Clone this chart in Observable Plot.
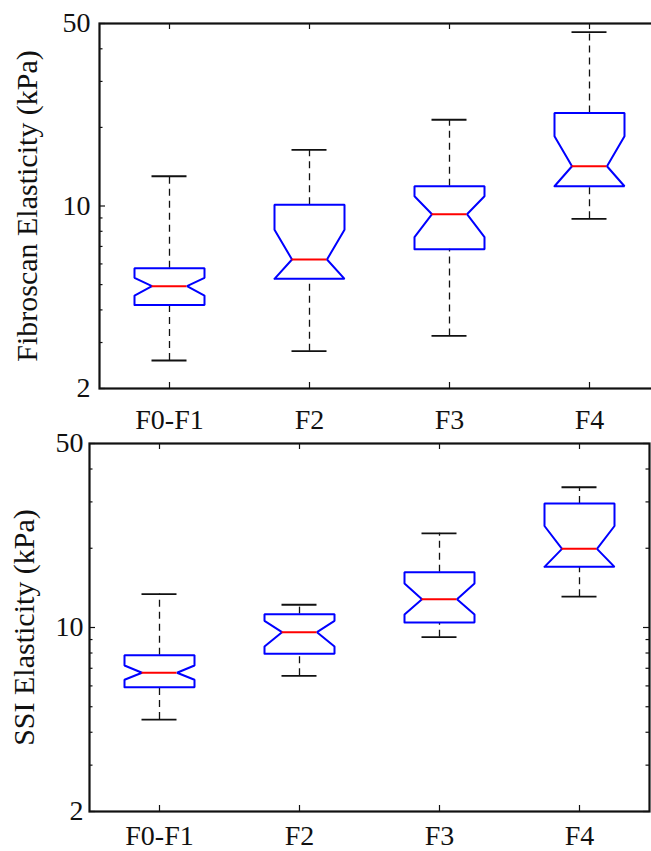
<!DOCTYPE html>
<html><head><meta charset="utf-8">
<script src="https://cdn.jsdelivr.net/npm/d3@7"></script>
<script src="https://cdn.jsdelivr.net/npm/@observablehq/plot@0.6"></script>
<style>
html,body{margin:0;padding:0;background:#fff;overflow:hidden;}
#chart div, #chart svg{display:block;}
#chart svg{max-width:none !important;}
#chart svg, #chart svg text{font-family:'Liberation Serif','Times New Roman',Times,serif !important;}
</style></head><body><div id="chart"></div>
<script>
const categories = ["F0-F1", "F2", "F3", "F4"];
const yTicks = [2, 10, 50];
const yMinorTicks = [3, 4, 5, 6, 7, 8, 9, 20, 30, 40];

// Fibroscan (top panel)
const fibroWhiskerLow  = [2.56, 2.78, 3.18, 8.93];
const fibroQ1          = [4.18, 5.26, 6.83, 11.9];
const fibroNotchLow    = [4.54, 4.80, 7.60, 10.9];
const fibroMedian      = [4.93, 6.24, 9.30, 14.2];
const fibroNotchHigh   = [5.31, 8.11, 10.9, 18.5];
const fibroQ3          = [5.78, 10.1, 11.9, 22.7];
const fibroWhiskerHigh = [13.0, 16.4, 21.4, 46.3];

// SSI (bottom panel)
const ssiWhiskerLow  = [4.47, 6.55, 9.19, 13.1];
const ssiQ1          = [5.93, 7.94, 10.45, 17.0];
const ssiNotchLow    = [6.33, 8.47, 11.2, 16.3];
const ssiMedian      = [6.73, 9.60, 12.8, 19.9];
const ssiNotchHigh   = [7.17, 10.6, 14.7, 24.3];
const ssiQ3          = [7.85, 11.24, 16.2, 29.6];
const ssiWhiskerHigh = [13.4, 12.2, 22.8, 34.1];

const FONT = "Liberation Serif";

function makeStats(wl, q1, nl, md, nh, q3, wh) {
  return categories.map((c, i) => ({
    i, cat: c, wl: wl[i], q1: q1[i], nl: Math.max(nl[i], q1[i]), md: md[i],
    nh: Math.min(nh[i], q3[i]), q3: q3[i], wh: wh[i]
  }));
}

function panel(stats, o) {
  const W = 0.25, N = 0.125, C = 0.125;
  const poly = [];
  for (const s of stats) {
    const pts = [
      [s.i - W, s.q1], [s.i + W, s.q1], [s.i + W, s.nl], [s.i + N, s.md],
      [s.i + W, s.nh], [s.i + W, s.q3], [s.i - W, s.q3], [s.i - W, s.nh],
      [s.i - N, s.md], [s.i - W, s.nl], [s.i - W, s.q1]
    ];
    for (const [x, y] of pts) poly.push({cat: s.cat, x, y});
  }
  const plotH = o.height - o.marginTop - o.marginBottom;
  const plotW = o.width - o.marginLeft - o.marginRight;
  const pxX = plotW / 4;
  const logR = Math.log(25);
  const yOff = px => Math.exp(px / plotH * logR);
  const majL = 6, minL = 3.5, xL = 6;
  const idx = categories.map((c, i) => i);
  return Plot.plot({
    width: o.width, height: o.height,
    marginLeft: o.marginLeft, marginRight: o.marginRight,
    marginTop: o.marginTop, marginBottom: o.marginBottom,
    style: {fontFamily: FONT, fontSize: "28px", color: "#111", background: "#fff", overflow: "visible"},
    x: {type: "linear", domain: [-0.5, 3.5], label: null},
    y: {type: "log", domain: [2, 50], label: null},
    marks: [
      Plot.ruleX(stats, {x: "i", y1: "q3", y2: "wh", stroke: "#111", strokeWidth: 1.3, strokeDasharray: "7,5"}),
      Plot.ruleX(stats, {x: "i", y1: "wl", y2: "q1", stroke: "#111", strokeWidth: 1.3, strokeDasharray: "7,5"}),
      Plot.ruleY(stats, {y: "wh", x1: d => d.i - C, x2: d => d.i + C, stroke: "#111", strokeWidth: 1.8}),
      Plot.ruleY(stats, {y: "wl", x1: d => d.i - C, x2: d => d.i + C, stroke: "#111", strokeWidth: 1.8}),
      Plot.line(poly, {x: "x", y: "y", z: "cat", stroke: "#0000ff", strokeWidth: 2, strokeLinejoin: "miter"}),
      Plot.ruleY(stats, {y: "md", x1: d => d.i - N, x2: d => d.i + N, stroke: "#ff0000", strokeWidth: 2}),
      Plot.ruleY(yTicks, {y: d => d, x1: -0.5, x2: -0.5 + majL / pxX, stroke: "#111", strokeWidth: 1.2}),
      Plot.ruleY(yTicks, {y: d => d, x1: 3.5 - majL / pxX, x2: 3.5, stroke: "#111", strokeWidth: 1.2}),
      Plot.ruleY(yMinorTicks, {y: d => d, x1: -0.5, x2: -0.5 + minL / pxX, stroke: "#111", strokeWidth: 1.2}),
      Plot.ruleY(yMinorTicks, {y: d => d, x1: 3.5 - minL / pxX, x2: 3.5, stroke: "#111", strokeWidth: 1.2}),
      Plot.ruleX(idx, {x: d => d, y1: 2, y2: 2 * yOff(xL), stroke: "#111", strokeWidth: 1.2}),
      Plot.ruleX(idx, {x: d => d, y1: 50 / yOff(xL), y2: 50, stroke: "#111", strokeWidth: 1.2}),
      Plot.frame({stroke: "#111", strokeWidth: 2.2}),
      Plot.axisY(yTicks, {tickSize: 0, tickPadding: o.yPad, tickFormat: d => String(d), fontSize: 28, fontFamily: FONT, label: null}),
      Plot.axisX(idx, {tickSize: 0, tickPadding: o.xPad, tickFormat: i => categories[i], fontSize: 28, fontFamily: FONT, label: null}),
      Plot.text([o.title], {text: d => d, frameAnchor: "left", textAnchor: "middle", rotate: -90, dx: o.labelDx, fontSize: 30, fontFamily: FONT, fill: "#111"})
    ]
  });
}

const topPanel = panel(makeStats(fibroWhiskerLow, fibroQ1, fibroNotchLow, fibroMedian, fibroNotchHigh, fibroQ3, fibroWhiskerHigh), {
  title: "Fibroscan Elasticity (kPa)", width: 661, height: 436,
  marginLeft: 99, marginRight: 2, marginTop: 23, marginBottom: 48,
  yPad: 9, xPad: 21, labelDx: -72
});
const bottomPanel = panel(makeStats(ssiWhiskerLow, ssiQ1, ssiNotchLow, ssiMedian, ssiNotchHigh, ssiQ3, ssiWhiskerHigh), {
  title: "SSI Elasticity (kPa)", width: 651, height: 415,
  marginLeft: 89, marginRight: 2, marginTop: 7, marginBottom: 40,
  yPad: 6, xPad: 14, labelDx: -65
});
document.getElementById("chart").append(topPanel, bottomPanel);
</script></body></html>
